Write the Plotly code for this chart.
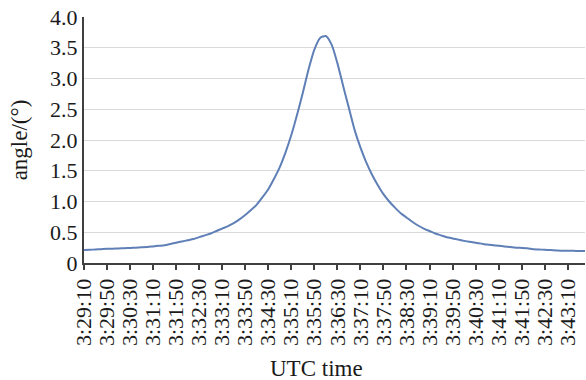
import plotly.graph_objects as go

# categories: UTC time every 10 s from 3:29:10 to 3:43:40
start_sec = 3 * 3600 + 29 * 60 + 10
n_points = 88
times = []
for k in range(n_points):
    s = start_sec + 10 * k
    times.append(f"{s // 3600}:{(s % 3600) // 60:02d}:{s % 60:02d}")

angle = [
    0.21, 0.215, 0.22, 0.225, 0.23, 0.232, 0.236, 0.24, 0.245, 0.25,
    0.255, 0.26, 0.27, 0.28, 0.29, 0.31, 0.33, 0.35, 0.37, 0.39,
    0.42, 0.45, 0.48, 0.52, 0.56, 0.60, 0.65, 0.71, 0.78, 0.86,
    0.95, 1.07, 1.20, 1.37, 1.56, 1.80, 2.08, 2.41, 2.77, 3.15,
    3.47, 3.66, 3.69, 3.55, 3.25, 2.88, 2.52, 2.16, 1.88, 1.64,
    1.44, 1.27, 1.12, 1.00, 0.90, 0.81, 0.74, 0.67, 0.61, 0.56,
    0.52, 0.48, 0.45, 0.42, 0.40, 0.38, 0.36, 0.345, 0.33, 0.315,
    0.30, 0.29, 0.28, 0.27, 0.26, 0.25, 0.245, 0.24, 0.225, 0.22,
    0.215, 0.21, 0.205, 0.20, 0.20, 0.198, 0.196, 0.195,
]

x_tick_labels = times[::4]
y_tick_vals = [0, 0.5, 1.0, 1.5, 2.0, 2.5, 3.0, 3.5, 4.0]
y_tick_text = ["0", "0.5", "1.0", "1.5", "2.0", "2.5", "3.0", "3.5", "4.0"]

idx = list(range(len(times)))

fig = go.Figure()
fig.add_trace(go.Scatter(
    x=idx, y=angle, mode="lines", line_shape="spline",
    line=dict(color="#5f7fb7", width=2, smoothing=0.6),
    customdata=times, hovertemplate="%{customdata}: %{y}<extra></extra>",
))

font_family = "Liberation Serif, Times New Roman, serif"
fig.update_layout(
    width=586, height=380,
    margin=dict(l=84, r=1, t=17, b=117),
    paper_bgcolor="white", plot_bgcolor="white",
    showlegend=False,
    font=dict(family=font_family, color="#1a1a1a"),
    annotations=[dict(
        text="UTC time", xref="paper", yref="paper",
        x=0.465, y=-0.427, xanchor="center", yanchor="middle",
        showarrow=False, font=dict(size=23, family=font_family, color="#1a1a1a"),
    )],
)
fig.update_xaxes(
    automargin=False,
    range=[0, len(times) - 1],
    tickvals=idx[::4], ticktext=x_tick_labels,
    tickangle=-90, tickfont=dict(size=22, family=font_family),
    ticks="outside", ticklen=5, tickcolor="#404040", tickwidth=1.5,
    showline=True, linecolor="#404040", linewidth=2,
    showgrid=False, zeroline=False,
)
fig.update_yaxes(
    automargin=False,
    range=[0, 4.0],
    tickvals=y_tick_vals, ticktext=y_tick_text,
    tickfont=dict(size=22, family=font_family),
    ticks="", showline=True, linecolor="#404040", linewidth=2,
    showgrid=True, gridcolor="#d9d9d9", gridwidth=1, zeroline=False,
    title=dict(text="angle/(°)", font=dict(size=23, family=font_family), standoff=16),
)

fig.write_html("out.html", config={"displayModeBar": False},
               post_script="document.body.style.margin='0';")
